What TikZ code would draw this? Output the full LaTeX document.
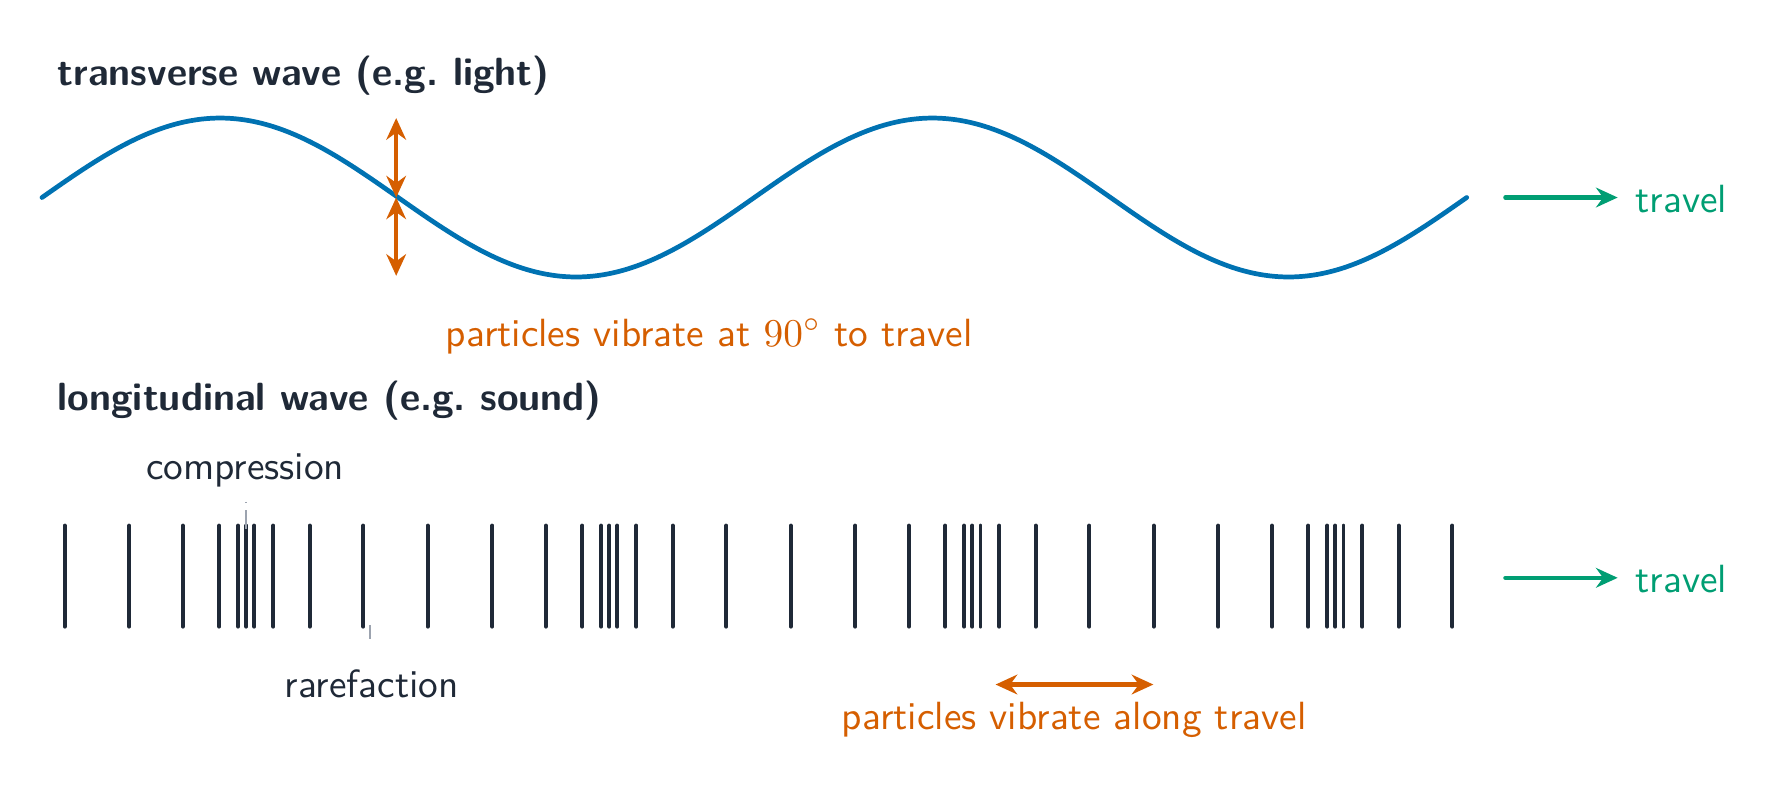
\documentclass[tikz,border=0pt]{standalone}
\usepackage{fontspec}
\usetikzlibrary{arrows.meta}
\definecolor{ink}{HTML}{1F2937}
\definecolor{wblue}{HTML}{0072B2}
\definecolor{worange}{HTML}{D55E00}
\definecolor{wgreen}{HTML}{009E73}
\definecolor{tickgray}{HTML}{9CA3AF}
\tikzset{
  lbl/.style={inner sep=0pt, anchor=base west},
  wavestyle/.style={draw=wblue, line width=1.2pt, line cap=round},
  barstyle/.style={draw=ink, line width=1pt, line cap=round},
  vib/.style={draw=worange, line width=1.05pt, line cap=round,
    arrows={Stealth[length=5.5pt,width=5pt,inset=1.8pt]-Stealth[length=5.5pt,width=5pt,inset=1.8pt]}},
  trav/.style={draw=wgreen, line width=1.05pt, line cap=round,
    arrows={-Stealth[length=5.5pt,width=5pt,inset=1.8pt]}},
  leader/.style={draw=tickgray, line width=0.5pt}
}
\begin{document}
\begin{tikzpicture}[x=0.2885pt, y=-0.2885pt, font=\sffamily, text=ink]
\useasboundingbox (0,0) rectangle (1568,696);

% transverse wave
\node[lbl] (t1) at (50,75) {\bfseries transverse wave (e.g.\ light)};
\draw[wavestyle] plot[domain=0:720, samples=241, smooth] ({37+(\x/360)*627.5},{174-70*sin(\x)});
\coordinate (vtop) at (349,104);
\coordinate (vmid) at (349,174);
\coordinate (vbot) at (349,243);
\draw[vib] (vtop) -- (vmid);
\draw[vib] (vmid) -- (vbot);
\node[lbl, text=worange] (p1) at (392,305) {particles vibrate at $90^\circ$ to travel};
\node[inner sep=0pt, anchor=west, text=wgreen] (tr1) at (1440,175) {travel};
\coordinate (a1s) at (1326,174);
\coordinate (a1e) at (1425,174);
\draw[trav] (a1s) -- (a1e);

% longitudinal wave
\node[lbl] (t2) at (50,362) {\bfseries longitudinal wave (e.g.\ sound)};
\node[lbl] (cmp) at (128,422) {compression};
\node[lbl] (rar) at (250,614) {rarefaction};
\foreach \n in {0,...,39}{
  \draw[barstyle] ({57+31.98*\n+42.2*sin(36*\n)},463) -- ({57+31.98*\n+42.2*sin(36*\n)},552);
}
\coordinate (cmpa) at (217,442);
\coordinate (cmpb) at (217,466);
\draw[leader, dash pattern=on 0.4pt off 1.8pt on 5pt off 20pt] (cmpa) -- (cmpb);
\coordinate (rara) at (326,551);
\coordinate (rarb) at (326,563);
\draw[leader] (rara) -- (rarb);
\node[inner sep=0pt, anchor=west, text=wgreen] (tr2) at (1440,510) {travel};
\coordinate (a2s) at (1326,509);
\coordinate (a2e) at (1425,509);
\draw[trav] (a2s) -- (a2e);
\coordinate (hl) at (877,603);
\coordinate (hr) at (1016,603);
\draw[vib] (hl) -- (hr);
\node[lbl, text=worange] (p2) at (741,643) {particles vibrate along travel};
\end{tikzpicture}
\end{document}
